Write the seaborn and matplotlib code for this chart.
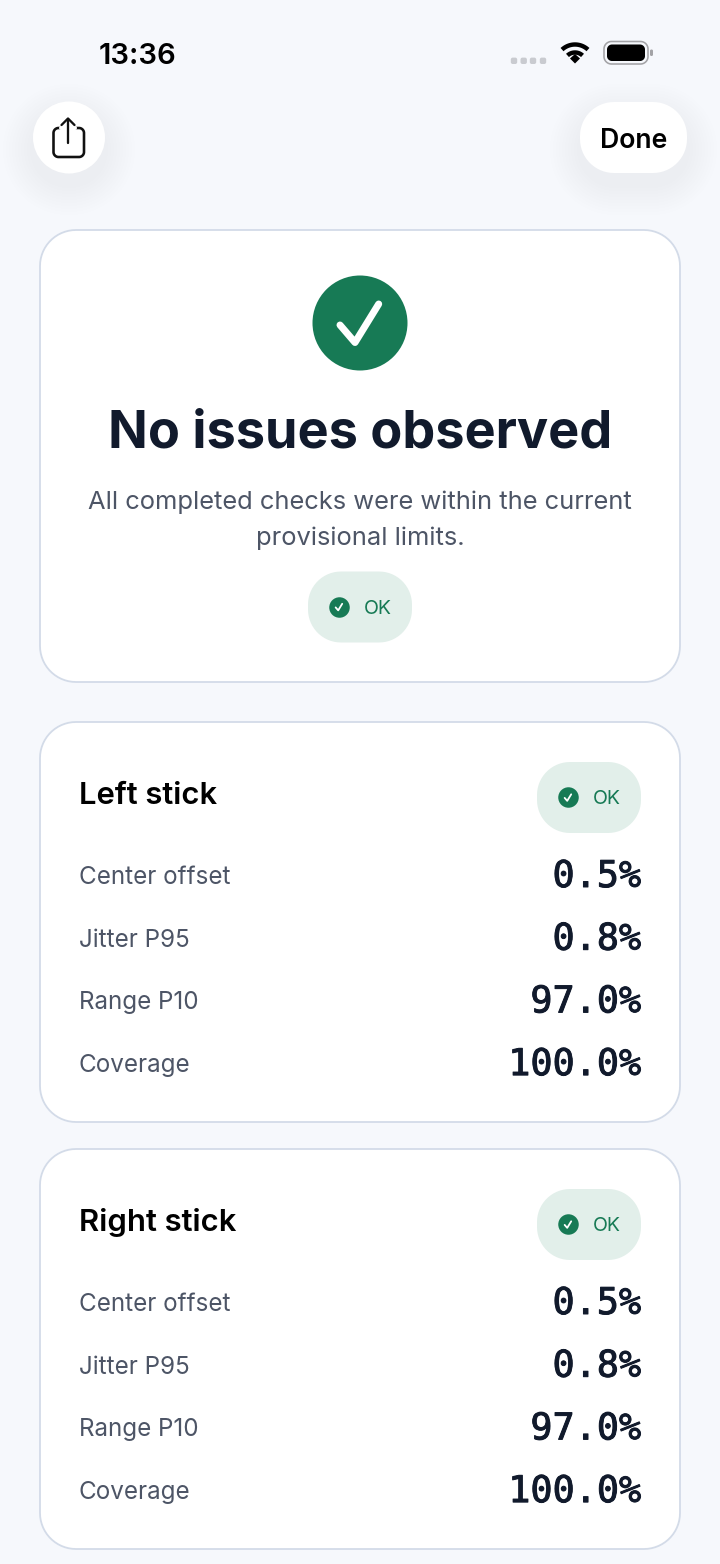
import numpy as np
import pandas as pd
import matplotlib.pyplot as plt
import matplotlib.patheffects as pe
from matplotlib.patches import Polygon, Circle
import seaborn as sns

# dane z ekranu
czas = '13:36'
tytul = 'No issues observed'
opis = ['All completed checks were within the current', 'provisional limits.']
status = 'OK'
karty = ['Left stick', 'Right stick']
metryki = ['Center offset', 'Jitter P95', 'Range P10', 'Coverage']
lewa = ['0.5%', '0.8%', '97.0%', '100.0%']
prawa = ['0.5%', '0.8%', '97.0%', '100.0%']

TLO = '#f6f8fc'
RAMKA = '#d3dbe8'
ZIELONY = '#177a55'
PIGULKA = '#e2efea'
CIEMNY = '#111a2c'
SZARY = '#4d5566'
FONT = 'Inter'
MONO = 'DejaVu Sans Mono'
PX = 72 / 100  # piksele na punkty

sns.set_theme(style='white', rc={'figure.facecolor': TLO, 'axes.facecolor': TLO})

fig = plt.figure(figsize=(7.2, 15.64), dpi=100)
ax = fig.add_axes([0, 0, 1, 1])


def prostokat(x0, y0, x1, y1, r, kolor, ramka='none', lw=0, alpha=None, z=2):
    # prostokat z prawdziwymi lukami w rogach
    a = np.radians(np.linspace(0, 90, 16))
    xs = np.concatenate([x1 - r + r * np.cos(a), x0 + r - r * np.sin(a),
                         x0 + r - r * np.cos(a), x1 - r + r * np.sin(a)])
    ys = np.concatenate([y1 - r + r * np.sin(a), y1 - r + r * np.cos(a),
                         y0 + r - r * np.sin(a), y0 + r - r * np.cos(a)])
    ax.add_patch(Polygon(np.column_stack([xs, ys]), closed=True, fc=kolor, ec=ramka, lw=lw * PX,
                         alpha=alpha, zorder=z))


def cien(x0, y0, x1, y1, r):
    # miekki cien pod przyciskiem
    for g in np.arange(30, 0, -3):
        prostokat(x0 - g, y0 + 12 - g, x1 + g, y1 + 12 + g, r + g, '#556080', alpha=0.003, z=1)


def tekst(x, y, s, px, kolor=CIEMNY, ha='left', weight='normal', family=FONT):
    return ax.text(x, y, s, fontsize=px * PX, color=kolor, ha=ha, va='baseline', weight=weight,
                   family=family, zorder=5)


def ptaszek(cx, cy, s, lw):
    ax.plot(cx + s * np.array([-0.42, -0.10, 0.40]), cy + s * np.array([0.05, 0.42, -0.40]),
            color='white', lw=lw * PX, solid_capstyle='round', solid_joinstyle='round', zorder=6)


# pasek statusu
tekst(99, 64, czas, 29.2, kolor='#000000', weight='semibold')
for x in [514, 523.7, 533, 543]:
    prostokat(x - 3.2, 57.6, x + 3.2, 64, 2, '#c9cbd0', z=3)
t = np.radians(np.linspace(-43, 43, 40))
for r, lw in [(19, 4.4), (11, 4.4)]:
    ax.plot(575 + r * np.sin(t), 63.5 - r * np.cos(t), color='black', lw=lw * PX, zorder=4,
            solid_capstyle='butt')
ax.fill([575, 570, 575, 580], [63.5, 58.5, 54, 58.5], color='black', zorder=4, lw=0)
prostokat(604, 41.5, 648, 64, 7.5, 'none', ramka='#a3a3a6', lw=1.6, z=3)
prostokat(607, 44.5, 645, 61, 5, 'black', z=4)
prostokat(650, 49.5, 653, 56, 1.4, '#a3a3a6', z=3)

# przyciski u gory
cien(33, 102, 105, 173, 35)
cien(580, 102, 687, 173, 35)
ax.add_patch(Circle((69, 137.5), 36, fc='white', ec='none', zorder=2))
prostokat(580, 102, 687, 173, 34, 'white', z=2)
tekst(633.5, 148, 'Done', 26.6, kolor='#000000', ha='center', weight='semibold')
k = '#111111'
prostokat(53.5, 128, 84, 157, 5, 'none', ramka=k, lw=2.6, z=3)
ax.plot([61, 75], [128, 128], color='white', lw=4 * PX, zorder=3.5)
ax.plot([68, 68], [119, 143], color=k, lw=2.3 * PX, zorder=4)
ax.plot([61.5, 68, 74.5], [125, 118.5, 125], color=k, lw=2.3 * PX, zorder=4)

# karta z podsumowaniem
prostokat(40, 230, 680, 682, 36, 'white', ramka=RAMKA, lw=1.8)
ax.add_patch(Circle((360, 323), 47.5, fc=ZIELONY, ec='none', zorder=3))
ax.plot([340, 355, 378.7], [325, 342.5, 304], color='white', lw=7 * PX, solid_capstyle='round',
        solid_joinstyle='round', zorder=4)
tekst(360, 447.5, tytul, 52.2, ha='center', weight='bold')
tekst(360, 509, opis[0], 25.5, kolor=SZARY, ha='center')
tekst(360, 545, opis[1], 25.5, kolor=SZARY, ha='center')


def pigulka(x0, y0):
    prostokat(x0, y0, x0 + 104, y0 + 71, 33, PIGULKA, z=3)
    tekst(x0 + 56, y0 + 42, status, 19.5, kolor=ZIELONY)
    ptaszek(x0 + 31, y0 + 35.5, 8, 1.8)


pigulka(308, 571.5)

# karty z galkami
wiersze = [(karty[0], lewa, 722), (karty[1], prawa, 1149)]
for nazwa, wartosci, y0 in wiersze:
    prostokat(40, y0, 680, y0 + 400, 36, 'white', ramka=RAMKA, lw=1.8)
    tekst(79, y0 + 82, nazwa, 31, kolor='#000000', weight='semibold')
    pigulka(537, y0 + 40)
    for i, (m, w) in enumerate(zip(metryki, wartosci)):
        tekst(79, y0 + 162 + i * 62.7, m, 24.2, kolor=SZARY)
        napis = tekst(641, y0 + 165 + i * 62.7, w, 36.8, ha='right', family=MONO)
        napis.set_path_effects([pe.withStroke(linewidth=0.7, foreground=CIEMNY)])

# kropki statusu
kropki = pd.DataFrame({'x': [339, 568, 568], 'y': [607, 797, 1224]})
sns.scatterplot(data=kropki, x='x', y='y', s=(20.5 * PX) ** 2, color=ZIELONY, linewidth=0,
                legend=False, ax=ax, zorder=5)

ax.set_xlim(0, 720)
ax.set_ylim(1564, 0)
ax.set_xlabel('')
ax.set_ylabel('')
ax.axis('off')
fig.savefig('out.png', dpi=100, facecolor=TLO)
